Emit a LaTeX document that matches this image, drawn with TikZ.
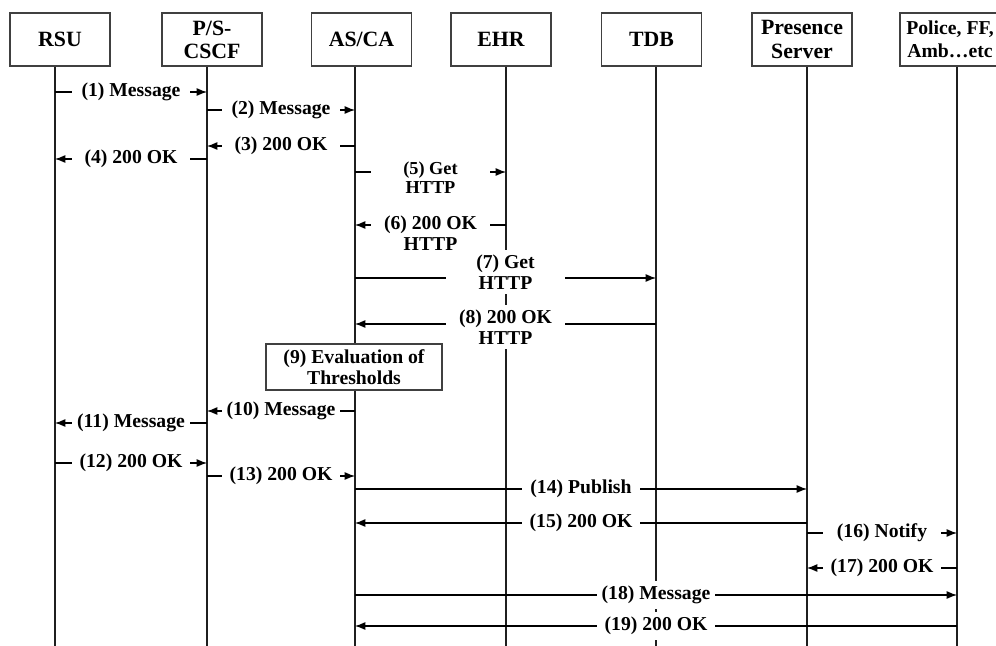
\documentclass[tikz,border=0pt]{standalone}
\usepackage{fontspec}
\setmainfont{Liberation Serif}
\usetikzlibrary{arrows.meta}
\definecolor{boxline}{gray}{0.25}
\definecolor{lifecol}{gray}{0.12}
\tikzset{
  head/.style={draw=boxline,line width=1.1pt,fill=white,minimum width=2.5cm,minimum height=1.325cm,inner sep=0pt,align=center,font=\fontsize{15.5}{16.5}\selectfont\bfseries},
  life/.style={draw=lifecol,line width=0.9pt},
  msg/.style={draw=black,line width=0.75pt,-{Latex[length=2.6mm,width=2mm]}},
  lbl/.style={fill=white,inner xsep=0pt,inner ysep=0.13cm,minimum width=2.95cm,align=center,font=\fontsize{14}{14.5}\selectfont\bfseries},
  lbls/.style={lbl,font=\fontsize{13}{13.5}\selectfont\bfseries},
  evalbox/.style={draw=boxline,line width=0.9pt,fill=white,minimum width=4.4cm,minimum height=1.15cm,inner sep=0pt,align=center,font=\fontsize{14}{14.5}\selectfont\bfseries},
}

\begin{document}
\begin{tikzpicture}[x=0.025cm,y=-0.025cm]
  \clip (0,0) rectangle (996,646);
  \node[head] (rsu) at (60,39.5) {RSU};
  \node[head] (pscscf) at (212,39.5) {P/S-\\CSCF};
  \node[head] (asca) at (361.5,39.5) {AS/CA};
  \node[head] (ehr) at (501,39.5) {EHR};
  \node[head] (tdb) at (651.5,39.5) {TDB};
  \node[head] (pres) at (802,39.5) {Presence\\Server};
  \node[head,font=\fontsize{14}{16}\selectfont\bfseries] (police) at (950,39.5) {Police, FF,\\Amb…etc};
  \coordinate (rsuL) at (rsu.south -| 55,0);
  \coordinate (pscL) at (pscscf.south -| 207,0);
  \coordinate (ascaL) at (asca.south -| 355,0);
  \coordinate (ehrL) at (ehr.south -| 506,0);
  \coordinate (tdbL) at (tdb.south -| 656,0);
  \coordinate (presL) at (pres.south -| 807,0);
  \coordinate (policeL) at (police.south -| 957,0);
  \draw[life] (rsuL) -- (rsuL |- 0,646);
  \draw[life] (pscL) -- (pscL |- 0,646);
  \draw[life] (ascaL) -- (ascaL |- 0,646);
  \draw[life] (ehrL) -- (ehrL |- 0,646);
  \draw[life] (tdbL) -- (tdbL |- 0,646);
  \draw[life] (presL) -- (presL |- 0,646);
  \draw[life] (policeL) -- (policeL |- 0,646);
  \draw[msg] (rsuL |- 0,92) -- node[lbl] {(1) Message} (pscL |- 0,92);
  \draw[msg] (pscL |- 0,110) -- node[lbl] {(2) Message} (ascaL |- 0,110);
  \draw[msg] (ascaL |- 0,146) -- node[lbl] {(3) 200 OK} (pscL |- 0,146);
  \draw[msg] (pscL |- 0,159) -- node[lbl] {(4) 200 OK} (rsuL |- 0,159);
  \draw[msg] (ascaL |- 0,172) -- node[lbls,yshift=-0.14cm] {(5) Get\\HTTP} (ehrL |- 0,172);
  \draw[msg] (ehrL |- 0,225) -- node[lbl,yshift=-0.2cm] {(6) 200 OK\\HTTP} (ascaL |- 0,225);
  \draw[msg] (ascaL |- 0,278) -- node[lbl,yshift=0.15cm] {(7) Get\\HTTP} (tdbL |- 0,278);
  \draw[msg] (tdbL |- 0,324) -- node[lbl,yshift=-0.08cm] {(8) 200 OK\\HTTP} (ascaL |- 0,324);
  \node[evalbox] (eval) at (354,367) {(9) Evaluation of\\Thresholds};
  \draw[msg] (ascaL |- 0,411) -- node[lbl] {(10) Message} (pscL |- 0,411);
  \draw[msg] (pscL |- 0,423) -- node[lbl] {(11) Message} (rsuL |- 0,423);
  \draw[msg] (rsuL |- 0,463) -- node[lbl] {(12) 200 OK} (pscL |- 0,463);
  \draw[msg] (pscL |- 0,476) -- node[lbl] {(13) 200 OK} (ascaL |- 0,476);
  \draw[msg] (ascaL |- 0,489) -- node[lbl] {(14) Publish} (presL |- 0,489);
  \draw[msg] (presL |- 0,523) -- node[lbl] {(15) 200 OK} (ascaL |- 0,523);
  \draw[msg] (presL |- 0,533) -- node[lbl] {(16) Notify} (policeL |- 0,533);
  \draw[msg] (policeL |- 0,568) -- node[lbl] {(17) 200 OK} (presL |- 0,568);
  \draw[msg] (ascaL |- 0,595) -- node[lbl] {(18) Message} (policeL |- 0,595);
  \draw[msg] (policeL |- 0,626) -- node[lbl] {(19) 200 OK} (ascaL |- 0,626);
\end{tikzpicture}
\end{document}
